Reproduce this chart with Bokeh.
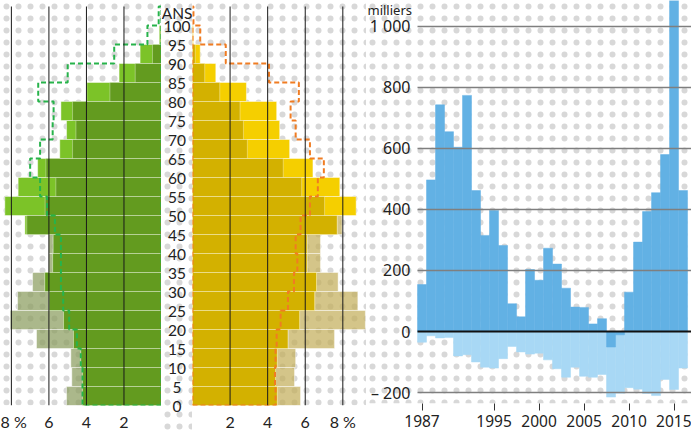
import numpy as np
from bokeh.plotting import figure
from bokeh.layouts import row
from bokeh.models import Range1d, FixedTicker, BoxAnnotation
from bokeh.core.properties import value
from bokeh.embed import file_html
from bokeh.resources import INLINE

# ---------------- data ----------------
age_starts = list(range(0, 100, 5))          # 0-4 ... 95-99
age_ticks = list(range(0, 105, 5))           # labels 0 ... 100
age_tick_labels = [str(a) for a in age_ticks]

# left pyramid (green): older year, 2016, projection (last value = 100+)
femmes_old = [5.06, 4.78, 4.83, 6.66, 8.06, 7.67, 6.87, 6.02, 6.02, 7.18,
              6.20, 5.63, 6.16, 4.74, 4.56, 4.74, 2.75, 1.40, 0.48, 0.05]
femmes_new = [4.21, 4.21, 4.30, 4.69, 5.22, 5.99, 6.22, 5.80, 5.77, 7.28,
              8.35, 7.64, 6.60, 5.42, 5.06, 5.36, 3.98, 2.26, 1.14, 0.12]
femmes_proj = [4.21, 4.21, 4.30, 4.51, 4.92, 5.24, 5.36, 5.36, 5.36, 5.68,
               6.10, 6.47, 7.00, 6.47, 5.80, 5.75, 6.57, 5.00, 2.52, 0.75, 0.15]

# right pyramid (yellow)
hommes_old = [5.75, 5.43, 5.49, 7.56, 9.20, 8.80, 7.75, 6.81, 6.81, 7.96,
              7.03, 5.81, 4.83, 2.92, 2.71, 2.53, 1.45, 0.65, 0.15, 0.02]
hommes_new = [4.51, 4.42, 4.51, 5.08, 5.70, 6.50, 6.60, 6.10, 6.10, 7.70,
              8.71, 7.84, 6.41, 5.17, 4.64, 4.48, 2.87, 1.24, 0.41, 0.05]
hommes_proj = [4.42, 4.39, 4.42, 4.48, 4.69, 5.08, 5.40, 5.58, 5.49, 5.75,
               6.25, 6.67, 6.99, 6.25, 5.49, 5.22, 5.66, 4.07, 1.77, 0.41, 0.05]

pct_ticks = [2, 4, 6, 8]
pct_labels = {2: "2", 4: "4", 6: "6", 8: "8 %"}

# migration balance (thousands)
years = list(range(1987, 2017))
solde_total = [154, 497, 743, 655, 604, 774, 462, 315, 397, 282,
               91, 48, 203, 168, 273, 221, 142, 80, 79, 25,
               42, -51, -11, 129, 293, 393, 455, 580, 1139, 462]
solde_negatif = [-35, -14, -21, -20, -80, -76, -100, -117, -120, -89,
                 -49, -67, -74, -71, -93, -122, -150, -117, -147, -150,
                 -141, -215, -202, -184, -189, -203, -210, -157, -190, -120]
year_ticks = [1987, 1995, 2000, 2005, 2010, 2015]
mig_ticks = [-200, 0, 200, 400, 600, 800, 1000]
mig_tick_labels = ["\u2013 200", "0", "200", "400", "600", "800", "1 000"]
mig_grid = [-200, 200, 400, 600, 800, 1000]
unit_label = "milliers"

FONT = "Lato"
FONT_R = "Noto Sans"
TXT = "#222222"
AGE_TOP = 106.58


def hatch_box():
    return BoxAnnotation(fill_color=None, fill_alpha=0, line_color=None,
                         hatch_pattern="dot", hatch_color="#d8d8d8",
                         hatch_scale=12, hatch_weight=2, level="underlay")


def pyramid(old, new, proj, xr, fw, c_old, c_new, c_min, c_dash):
    p = figure(frame_width=fw, frame_height=405, x_range=xr,
               y_range=Range1d(0, AGE_TOP), title=None,
               output_backend="svg", toolbar_location=None,
               y_axis_location=None,
               min_border_left=0, min_border_right=0,
               min_border_top=0, min_border_bottom=26)
    p.outline_line_color = None
    p.background_fill_color = "white"
    p.border_fill_color = "white"
    p.add_layout(hatch_box())
    mids = [a + 2.5 for a in age_starts]
    p.hbar(y=mids, left=0, right=old, height=5, fill_color=c_old,
           fill_alpha=0.72, line_color="white", line_alpha=0.45, line_width=1)
    p.hbar(y=mids, left=0, right=new, height=5, fill_color=c_new,
           line_color="white", line_alpha=0.45, line_width=1)
    p.hbar(y=mids, left=0, right=list(np.minimum(old, new)), height=5,
           fill_color=c_min, line_color="white", line_alpha=0.35, line_width=1)
    xs, ys = [0], [0]
    for i, v in enumerate(proj):
        xs += [v, v]
        ys += [5 * i, 5 * i + 5]
    top = 5 * len(proj)
    xs += [0, 0]
    ys += [top, 0]
    p.line(xs, ys, line_color=c_dash, line_width=2, line_dash="5 3")
    n = len(pct_ticks)
    p.segment(x0=pct_ticks, x1=pct_ticks, y0=[0] * n, y1=[top] * n,
              line_color="#1a1a1a", line_width=1)
    p.xgrid.visible = False
    p.ygrid.visible = False
    ax = p.xaxis[0]
    ax.ticker = FixedTicker(ticks=pct_ticks)
    ax.major_label_overrides = pct_labels
    ax.axis_line_color = None
    ax.major_tick_line_color = None
    ax.minor_tick_line_color = None
    ax.major_tick_out = 0
    ax.major_tick_in = 0
    ax.major_label_standoff = 6
    ax.major_label_text_font = FONT
    ax.major_label_text_font_size = "16px"
    ax.major_label_text_color = TXT
    return p


p_f = pyramid(femmes_old, femmes_new, femmes_proj, Range1d(8.58, 0), 161,
              "#8a9c5e", "#7cc328", "#639b1f", "#27b34b")
p_h = pyramid(hommes_old, hommes_new, hommes_proj, Range1d(0, 9.26), 174,
              "#c4ae5c", "#f5cf00", "#d3b100", "#f07c22")

# age label strip
p_a = figure(frame_width=31, frame_height=431, x_range=Range1d(-1, 1),
             y_range=Range1d(-6.84, AGE_TOP), output_backend="svg", title=None,
             toolbar_location=None, x_axis_location=None, y_axis_location=None,
             min_border_left=0, min_border_right=0, min_border_top=0,
             min_border_bottom=0)
p_a.outline_line_color = None
p_a.xgrid.visible = False
p_a.ygrid.visible = False
p_a.add_layout(hatch_box())
p_a.text(x=[0] * len(age_ticks), y=age_ticks, text=age_tick_labels,
         y_offset=1, text_align="center", text_baseline="middle",
         text_font=value(FONT), text_font_size="15.5px", text_color=TXT)
p_a.text(x=[0], y=[103.3], text=["ANS"], text_align="center",
         text_baseline="middle", text_font=value(FONT),
         text_font_size="15.5px", text_color=TXT)

# migration chart (frame includes the y-label area on its left)
bar_left = years[0] - 0.5
x_end = 2016.94
x_start = bar_left - 51 / 9.0
p_m = figure(frame_width=325, frame_height=403,
             x_range=Range1d(x_start, x_end), y_range=Range1d(-236, 1085),
             output_backend="svg", title=None, toolbar_location=None,
             y_axis_location=None,
             min_border_left=0, min_border_right=0,
             min_border_top=0, min_border_bottom=28)
p_m.outline_line_color = None
p_m.add_layout(hatch_box())
p_m.vbar(x=years, bottom=0, top=solde_negatif, width=1,
         fill_color="#a8d8f5", line_color="#a8d8f5", line_width=0.5)
p_m.vbar(x=years, bottom=0, top=solde_total, width=1,
         fill_color="#62b1e4", line_color="#62b1e4", line_width=0.5)
p_m.xgrid.visible = False
p_m.ygrid.visible = False
n_g = len(mig_grid)
p_m.segment(x0=[bar_left] * n_g, x1=[x_end] * n_g, y0=mig_grid, y1=mig_grid,
            line_color="#7f7f7f", line_width=1.5)
p_m.segment(x0=[bar_left], x1=[x_end], y0=[0], y1=[0],
            line_color="#111111", line_width=2)
p_m.text(x=[bar_left] * len(mig_ticks), y=mig_ticks, text=mig_tick_labels,
         x_offset=-7, text_align="right", text_baseline="middle",
         text_font=value(FONT_R), text_font_size="16px", text_color=TXT)
p_m.text(x=[x_start], y=[p_m.y_range.end], text=[unit_label],
         x_offset=1, y_offset=9, text_align="left", text_baseline="middle",
         text_font=value(FONT_R), text_font_size="13px", text_color=TXT)
xa = p_m.xaxis[0]
xa.ticker = FixedTicker(ticks=year_ticks)
xa.axis_line_color = None
xa.major_tick_out = 7
xa.major_tick_in = 0
xa.major_tick_line_color = "#333333"
xa.minor_tick_line_color = None
xa.major_label_standoff = 4
xa.major_label_text_font = FONT_R
xa.major_label_text_font_size = "15.5px"
xa.major_label_text_color = TXT

layout = row(p_f, p_a, p_h, p_m, spacing=0)
open("out.html", "w").write(file_html(layout, INLINE))
